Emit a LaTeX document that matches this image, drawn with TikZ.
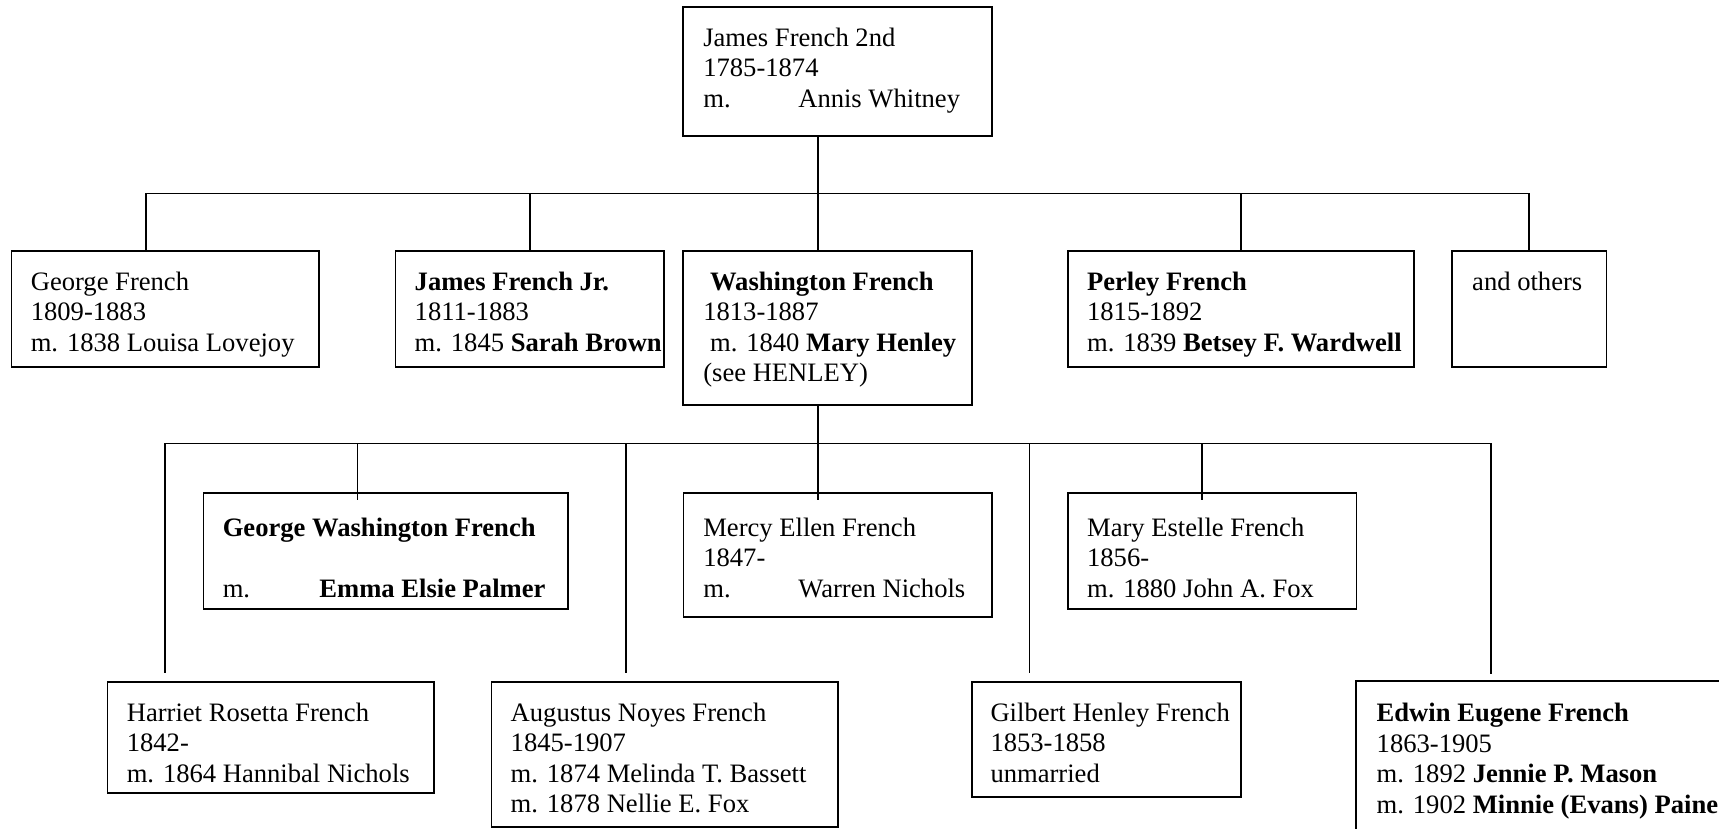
\documentclass[tikz,border=0pt]{standalone}
\usepackage{fontspec}
\setmainfont{Liberation Serif}
\usetikzlibrary{fit}
\newcommand\fsz{\fontsize{13.3pt}{15.25pt}\selectfont}
\newcommand\mtab[1][47.5pt]{\makebox[#1][l]{m.}}
\begin{document}
\begin{tikzpicture}[x=0.5pt,y=-0.5pt,
  box/.style={draw, line width=0.9pt, inner sep=0pt},
  edge/.style={line width=0.9pt},
  txt/.style={anchor=north west, inner sep=0pt, align=left, font=\fsz},
  conn/.style={line width=0.65pt},
  bus/.style={line width=0.8pt}]
\useasboundingbox (0,0) rectangle (1719,829);
% boxes
\node[box, fit={(683,7.3) (992,136)}] (top) {};
\node[box, fit={(11.5,251.3) (318.7,366.7)}] (gf) {};
\node[box, fit={(395.5,251.3) (664,366.7)}] (jj) {};
\node[box, fit={(683,251.3) (972,405)}] (wf) {};
\node[box, fit={(1068,251.3) (1414,366.7)}] (pf) {};
\node[box, fit={(1452,251.3) (1606.5,366.7)}] (ao) {};
\node[box, fit={(203.5,493.3) (568,609)}] (gw) {};
\node[box, fit={(683.5,493.3) (991.6,616.7)}] (me) {};
\node[box, fit={(1068,493.3) (1356.5,609)}] (ms) {};
\node[box, fit={(107.5,681.7) (434,793)}] (hr) {};
\node[box, fit={(491.5,681.7) (837.6,827)}] (an) {};
\node[box, fit={(972,681.7) (1240.7,796.7)}] (gh) {};
\node[inner sep=0pt, fit={(1356.4,681.7) (1719,829)}] (ee) {};
\draw[edge] (ee.south west) -- (ee.north west) -- (ee.north east);
% texts
\node[txt] (topt) at ([shift={(20.8,18.05)}]top.north west) {\strut James French 2nd\\1785-1874\\\mtab Annis Whitney};
\node[txt] (gft) at ([shift={(19.8,18.05)}]gf.north west) {\strut George French\\1809-1883\\m. 1838 Louisa Lovejoy};
\node[txt] (jjt) at ([shift={(19.7,18.05)}]jj.north west) {\strut\textbf{James French Jr.}\\1811-1883\\m. 1845 \textbf{Sarah Brown}};
\node[txt] (wft) at ([shift={(20.8,18.05)}]wf.north west) {\strut\hspace*{3.4pt}\textbf{Washington French}\\1813-1887\\\hspace*{3.4pt}m. 1840 \textbf{Mary Henley}\\(see HENLEY)};
\node[txt] (pft) at ([shift={(19.6,18.05)}]pf.north west) {\strut\textbf{Perley French}\\1815-1892\\m. 1839 \textbf{Betsey F. Wardwell}};
\node[txt] (aot) at ([shift={(20.7,18.05)}]ao.north west) {\strut and others};
\node[txt] (gwt) at ([shift={(19.8,21.85)}]gw.north west) {\strut\textbf{George Washington French}\\\mbox{}\\\mtab[48.3pt]\textbf{Emma Elsie Palmer}};
\node[txt] (met) at ([shift={(20.3,21.85)}]me.north west) {\strut Mercy Ellen French\\1847-\\\mtab Warren Nichols};
\node[txt] (mst) at ([shift={(19.6,21.85)}]ms.north west) {\strut Mary Estelle French\\1856-\\m. 1880 John A. Fox};
\node[txt] (hrt) at ([shift={(19.8,18.65)}]hr.north west) {\strut Harriet Rosetta French\\1842-\\m. 1864 Hannibal Nichols};
\node[txt] (ant) at ([shift={(19.7,18.65)}]an.north west) {\strut Augustus Noyes French\\1845-1907\\m. 1874 Melinda T. Bassett\\m. 1878 Nellie E. Fox};
\node[txt] (ght) at ([shift={(19,18.65)}]gh.north west) {\strut Gilbert Henley French\\1853-1858\\unmarried};
\node[txt] (eet) at ([shift={(20.3,18.65)}]ee.north west) {\strut\textbf{Edwin Eugene French}\\1863-1905\\m. 1892 \textbf{Jennie P. Mason}\\m. 1902 \textbf{Minnie (Evans) Paine}};
% generation 1 bus
\coordinate (d1) at (146,193.3);
\coordinate (d2) at (530,193.3);
\coordinate (d3) at (818,193.3);
\coordinate (d4) at (1241,193.3);
\coordinate (d5) at (1529,193.3);
\draw[conn] (top.south -| d3) -- (d3);
\draw[bus] (d1) -- (d5);
\draw[conn] (d1) -- (d1 |- gf.north);
\draw[conn] (d2) -- (d2 |- jj.north);
\draw[conn] (d3) -- (d3 |- wf.north);
\draw[conn] (d4) -- (d4 |- pf.north);
\draw[conn] (d5) -- (d5 |- ao.north);
% generation 2 bus
\coordinate (e1) at (165,443.3);
\coordinate (e2) at (357.6,443.3);
\coordinate (e3) at (626,443.3);
\coordinate (e4) at (818,443.3);
\coordinate (e5) at (1029.5,443.3);
\coordinate (e6) at (1202,443.3);
\coordinate (e7) at (1491,443.3);
\draw[conn] (wf.south -| e4) -- (e4);
\draw[bus] (e1) -- (e7);
\draw[conn, shorten >=-3.8pt] (e2) -- (e2 |- gw.north);
\draw[conn, shorten >=-3.8pt] (e4) -- (e4 |- me.north);
\draw[conn, shorten >=-3.8pt] (e6) -- (e6 |- ms.north);
\draw[conn, shorten >=3.7pt] (e1) -- (e1 |- hr.north);
\draw[conn, shorten >=3.7pt] (e3) -- (e3 |- an.north);
\draw[conn, shorten >=3.7pt] (e5) -- (e5 |- gh.north);
\draw[conn, shorten >=3.7pt] (e7) -- (e7 |- ee.north);
\end{tikzpicture}
\end{document}
